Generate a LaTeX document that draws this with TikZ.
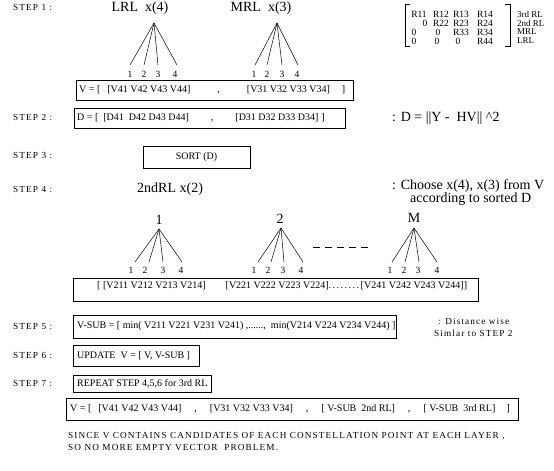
\documentclass[tikz,border=0pt]{standalone}
\usepackage{fontspec}
\setmainfont{Liberation Serif}
\newfontfamily\spacedf[LetterSpace=12]{Liberation Serif}
\usetikzlibrary{shadows}
\begin{document}
\begin{tikzpicture}[x=1pt,y=-1pt,
  every node/.style={inner sep=0pt},
  steplbl/.style={font=\spacedf\fontsize{9.25}{11}\selectfont, anchor=west},
  smallnote/.style={font=\spacedf\fontsize{9.25}{11}\selectfont, anchor=west},
  bigt/.style={font=\fontsize{14}{16}\selectfont},
  note/.style={font=\fontsize{14}{16}\selectfont, anchor=west},
  leaft/.style={font=\fontsize{9.5}{11}\selectfont},
  boxtxt/.style={font=\fontsize{10}{12}\selectfont, anchor=west},
  mat/.style={font=\fontsize{9.5}{11}\selectfont},
  rowlbl/.style={font=\fontsize{9}{11}\selectfont, anchor=west},
  vbox/.style={draw, line width=0.7pt, fill=white, anchor=north west,
    drop shadow={shadow xshift=1pt, shadow yshift=-1pt, fill=black!60, opacity=1}},
  edge/.style={line width=0.5pt},
]
\useasboundingbox (0,0) rectangle (554,471);

% ---------- STEP labels ----------
\node[steplbl] (s1) at (13,8)   {STEP 1 :};
\node[steplbl] (s2) at (13,118) {STEP 2 :};
\node[steplbl] (s3) at (13,156) {STEP 3 :};
\node[steplbl] (s4) at (13,190) {STEP 4 :};
\node[steplbl] (s5) at (13,326) {STEP 5 :};
\node[steplbl] (s6) at (13,355) {STEP 6 :};
\node[steplbl] (s7) at (13,383) {STEP 7 :};

% ---------- STEP 1 trees ----------
\node[bigt] (lrlt) at (140,8) {LRL\ \ x(4)};
\node[bigt] (mrlt) at (261,8) {MRL\ \ x(3)};
\coordinate (lrl) at (154,23);
\foreach \i/\x/\lx in {1/130/130,2/144/144,3/158/158,4/177/175}{
  \coordinate (lrl\i) at (\x,65);
  \node[leaft] (lrlL\i) at (\lx,74) {\i};
  \draw[edge] (lrl) -- (lrl\i);
}
\coordinate (mrl) at (277,23);
\foreach \i/\x/\lx in {1/255/254,2/267/267,3/282/282,4/298/297}{
  \coordinate (mrl\i) at (\x,65);
  \node[leaft] (mrlL\i) at (\lx,74) {\i};
  \draw[edge] (mrl) -- (mrl\i);
}

% ---------- V box ----------
\node[vbox, minimum width=277pt, minimum height=20pt] (vb) at (76,80) {};
\node[boxtxt] (vbt) at (79,90) {V = [\hspace{7pt}[V41 V42 V43 V44]\hspace{27pt},\hspace{27pt}[V31 V32 V33 V34]\hspace{12pt}]};

% ---------- R matrix ----------
\coordinate (bl1) at (410,4.5); \coordinate (bl2) at (405,4.5);
\coordinate (bl3) at (405,46);  \coordinate (bl4) at (410,46);
\draw[edge] (bl1) -- (bl2) -- (bl3) -- (bl4);
\coordinate (br1) at (505,4.5); \coordinate (br2) at (510,4.5);
\coordinate (br3) at (510,46);  \coordinate (br4) at (505,46);
\draw[edge] (br1) -- (br2) -- (br3) -- (br4);
\foreach \n/\x/\y/\t in {11/419/14/R11,12/441/14/R12,13/461/14/R13,14/485/14/R14,
  21/425/23/0,22/441/23/R22,23/461/23/R23,24/485/23/R24,
  31/414/32/0,32/438/32/0,33/461/32/R33,34/485/32/R34,
  41/414/41/0,42/437/41/0,43/458/41/0,44/485/41/R44}{
  \node[mat] (m\n) at (\x,\y) {\t};
}
\node[rowlbl] (r3) at (517,14) {3rd RL};
\node[rowlbl] (r2) at (517,23) {2nd RL};
\node[rowlbl] (rm) at (517,32) {MRL};
\node[rowlbl] (rl) at (517,41) {LRL};

% ---------- STEP 2 ----------
\node[vbox, minimum width=271pt, minimum height=20pt] (db) at (74,108) {};
\node[boxtxt] (dbt) at (77,118) {D = [\hspace{5pt}[D41\ \ D42 D43 D44]\hspace{22pt},\hspace{22pt}[D31 D32 D33 D34]\hspace{3pt}]};
\node[note] (dn) at (392,118) {: D = \textbar\textbar Y -\ \ HV\textbar\textbar\ \textasciicircum 2};

% ---------- STEP 3 ----------
\node[vbox, minimum width=107pt, minimum height=22pt] (sb) at (143,146) {};
\node[boxtxt, anchor=center] (sbt) at (196.5,157) {SORT (D)};

% ---------- STEP 4 ----------
\node[bigt, anchor=west] (rl2) at (137,189) {2ndRL x(2)};
\node[note] (cn1) at (392,186) {: Choose x(4), x(3) from V};
\node[note] (cn2) at (410,199) {according to sorted D};

\node[bigt] (t1) at (159,220) {1};
\coordinate (a1) at (159,229);
\foreach \i/\x/\lx in {1/135/131,2/149/145,3/163/163,4/182/181}{
  \coordinate (a1\i) at (\x,262);
  \node[leaft] (a1L\i) at (\lx,270) {\i};
  \draw[edge] (a1) -- (a1\i);
}
\node[bigt] (t2) at (280,219) {2};
\coordinate (a2) at (281,228);
\foreach \i/\x/\lx in {1/258/254,2/271/268,3/284/283,4/303/301}{
  \coordinate (a2\i) at (\x,262);
  \node[leaft] (a2L\i) at (\lx,270) {\i};
  \draw[edge] (a2) -- (a2\i);
}
\node[bigt] (tm) at (414,218) {M};
\coordinate (am) at (414,228);
\foreach \i/\x/\lx in {1/392/390,2/405/404,3/419/418,4/437/437}{
  \coordinate (am\i) at (\x,262);
  \node[leaft] (amL\i) at (\lx,270) {\i};
  \draw[edge] (am) -- (am\i);
}
\coordinate (dA) at (313,247); \coordinate (dB) at (368,247);
\draw[line width=0.6pt, dash pattern=on 7pt off 5pt] (dA) -- (dB);

\node[vbox, minimum width=405pt, minimum height=23pt] (bb) at (73,278) {};
\node[boxtxt] (bbt) at (97,286) {[ [V211 V212 V213 V214]\hspace{20pt}[V221 V222 V223 V224].\hspace{1.5pt}.\hspace{1.5pt}.\hspace{1.5pt}.\hspace{1.5pt}.\hspace{1.5pt}.\hspace{1.5pt}.\hspace{1.5pt}.\hspace{1.5pt}[V241 V242 V243 V244]]};

% ---------- STEP 5 ----------
\node[vbox, minimum width=323pt, minimum height=23pt] (vs) at (73,315) {};
\node[boxtxt] (vst) at (77,326.5) {V-SUB = [ min( V211 V221 V231 V241) ,......,\ \ min(V214 V224 V234 V244) ]};
\node[smallnote] (dw1) at (438,321) {: Distance wise};
\node[smallnote] (dw2) at (434,333) {Simlar to STEP 2};

% ---------- STEP 6 ----------
\node[vbox, minimum width=126pt, minimum height=21pt] (ub) at (73,345) {};
\node[boxtxt] (ubt) at (77,355.5) {UPDATE\ \ V = [ V, V-SUB ]};

% ---------- STEP 7 ----------
\node[vbox, minimum width=138pt, minimum height=17pt] (rb) at (73,375) {};
\node[boxtxt] (rbt) at (77,383.5) {REPEAT STEP 4,5,6 for 3rd RL};

% ---------- final V ----------
\node[vbox, minimum width=452pt, minimum height=22pt] (fb) at (66,398) {};
\node[boxtxt] (fbt) at (70,409) {V = [\hspace{7pt}[V41 V42 V43 V44]\hspace{13pt},\hspace{13pt}[V31 V32 V33 V34]\hspace{13pt},\hspace{13pt}[ V-SUB\ \ 2nd RL]\hspace{13pt},\hspace{13pt}[ V-SUB\ \ 3rd RL]\hspace{11pt}]};

\node[smallnote] (since1) at (68,436) {SINCE V CONTAINS CANDIDATES OF EACH CONSTELLATION POINT AT EACH LAYER ,};
\node[smallnote] (since2) at (68,448) {SO NO MORE EMPTY VECTOR\ \ PROBLEM.};
\end{tikzpicture}
\end{document}
